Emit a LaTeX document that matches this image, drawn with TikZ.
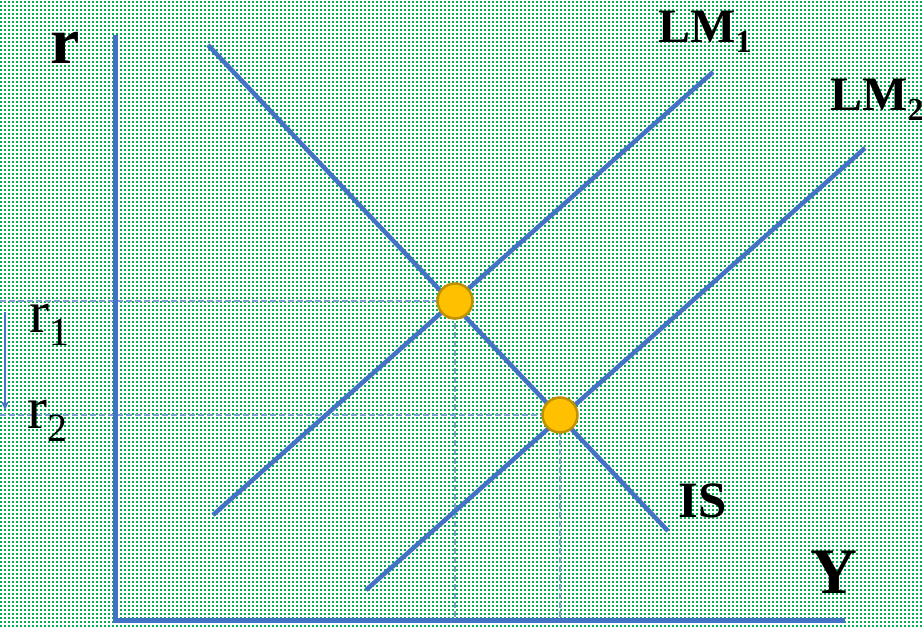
\documentclass[tikz,border=0pt]{standalone}
\usepackage{fontspec}
\setmainfont{Liberation Serif}
\usetikzlibrary{arrows.meta,positioning,patterns}
\definecolor{curveblue}{HTML}{4472C4}
\definecolor{guideblue}{HTML}{7F9FD6}
\definecolor{dotgreen}{HTML}{00B050}
\definecolor{eqfill}{HTML}{FFC000}
\definecolor{eqdraw}{HTML}{BF9000}
\pgfdeclarepatternformonly{gdots}{\pgfqpoint{0pt}{0pt}}{\pgfqpoint{2pt}{2pt}}{\pgfqpoint{4pt}{4pt}}%
 {\pgfpathrectangle{\pgfqpoint{0pt}{0pt}}{\pgfqpoint{2pt}{2pt}}\pgfusepath{fill}}
\newcommand{\lsub}[2]{{\fontsize{#2}{#2}\selectfont\raisebox{-0.34em}{#1}}}

\begin{document}
\begin{tikzpicture}[x=1pt,y=-1pt,>=Stealth,
 curve/.style={draw=curveblue,line width=4.5pt},
 axis/.style={draw=curveblue,line width=5pt},
 guide/.style={draw=guideblue,line width=1.2pt,dash pattern=on 6pt off 3pt},
 eqpt/.style={circle,fill=eqfill,draw=eqdraw,line width=2.5pt,minimum size=35pt,inner sep=0pt},
 lbl/.style={anchor=base west,inner sep=0pt,text=black}]
\useasboundingbox (0,0) rectangle (922,627);
\fill[white] (0,0) rectangle (922,627);
\fill[pattern=gdots,pattern color=dotgreen] (0,0) rectangle (922,627);
% axes
\coordinate (top) at (115,35);
\coordinate (origin) at (115,620);
\coordinate (right) at (845,620);
% curve ends
\coordinate (is1) at (208,45);
\coordinate (is2) at (668,531);
\coordinate (lma1) at (213,515);
\coordinate (lma2) at (713,72);
\coordinate (lmb1) at (366,590);
\coordinate (lmb2) at (865,148);
\coordinate (eq1) at (455,301);
\coordinate (eq2) at (560,415);
\coordinate (r1l) at (0,301);
\coordinate (r2l) at (0,415);
\coordinate (arr1) at (5,312);
\coordinate (arr2) at (5,410);
% guides
\draw[guide] (r1l) -- (eq1) -- (eq1 |- origin);
\draw[guide] (r2l) -- (eq2) -- (eq2 |- origin);
\draw[axis,line join=miter] (top) -- (origin) -- (right);
\path[curve] (is1) -- (is2);
\path[curve] (lma1) -- (lma2);
\path[curve] (lmb1) -- (lmb2);
\draw[draw=curveblue,line width=1.8pt,-{Stealth[length=9pt,width=8pt]}] (arr1) -- (arr2);
% equilibria
\node[eqpt] (e1) at (eq1) {};
\node[eqpt] (e2) at (eq2) {};
% labels
\node[lbl,font=\fontsize{66}{66}\selectfont\bfseries] (rlab) at (50,63) {r};
\node[lbl,font=\fontsize{60}{60}\selectfont] (r1lab) at (29,332) {r\lsub{1}{40}};
\node[lbl,font=\fontsize{60}{60}\selectfont] (r2lab) at (27,428) {r\lsub{2}{40}};
\node[lbl,font=\fontsize{48}{48}\selectfont\bfseries] (lm1lab) at (658,42) {LM\lsub{1}{32}};
\node[lbl,font=\fontsize{48}{48}\selectfont\bfseries] (lm2lab) at (830,110) {LM\lsub{2}{32}};
\node[lbl,font=\fontsize{51}{51}\selectfont\bfseries] (islab) at (678,517) {IS};
\node[lbl,font=\fontsize{65}{65}\selectfont\bfseries] (ylab) at (810,593) {Y};
\end{tikzpicture}
\end{document}
